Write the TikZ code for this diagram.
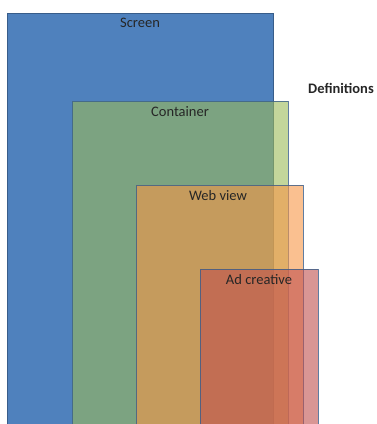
\documentclass[tikz,border=0pt]{standalone}
\usepackage{fontspec}
\setmainfont{Carlito}
\begin{document}
\begin{tikzpicture}[x=1pt,y=-1pt,
  layer/.style={draw=edgecol,line width=0.9pt,draw opacity=0.8,fill opacity=0.6},
  lbl/.style={font=\fontsize{14.5}{17}\selectfont,text=black!85,inner sep=0pt}]
\definecolor{edgecol}{HTML}{385D8A}
\definecolor{cblue}{HTML}{4F81BD}
\definecolor{cgreen}{HTML}{9BBB59}
\definecolor{corange}{HTML}{F79646}
\definecolor{cred}{HTML}{C0504D}
\useasboundingbox (0,0) rectangle (376,424);
\begin{scope}
\clip (0,0) rectangle (376,424);
\filldraw[fill=cblue,draw=edgecol,line width=0.9pt] (7,13) rectangle (273,430);
\filldraw[layer,fill=cgreen] (72,101) rectangle (288,430);
\filldraw[layer,fill=corange] (136,185) rectangle (303,430);
\filldraw[layer,fill=cred] (200,269) rectangle (318,430);
\end{scope}
\node[lbl] (screen) at (140,23) {Screen};
\node[lbl] (container) at (180,112) {Container};
\node[lbl] (webview) at (218,196) {Web view};
\node[lbl] (ad) at (259,280) {Ad creative};
\node[lbl,font=\fontsize{14.5}{17}\selectfont\bfseries] (defs) at (341,88) {Definitions};
\end{tikzpicture}
\end{document}
